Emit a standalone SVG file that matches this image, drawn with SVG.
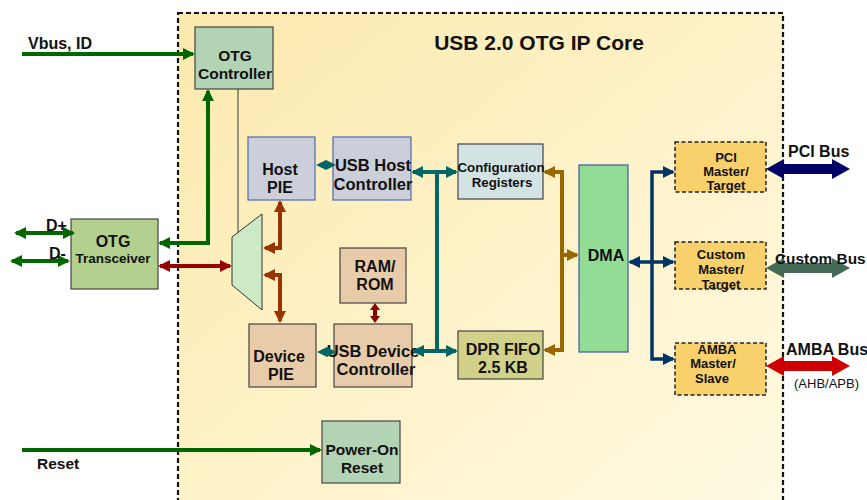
<svg xmlns="http://www.w3.org/2000/svg" width="867" height="500" viewBox="0 0 867 500">
<defs>
<linearGradient id="bg" x1="0" y1="0" x2="1" y2="1">
<stop offset="0" stop-color="#fce9ad"/>
<stop offset="1" stop-color="#fffae3"/>
</linearGradient>
<marker id="ag" viewBox="0 0 12 12" markerWidth="12" markerHeight="12" refX="10" refY="6" orient="auto-start-reverse" markerUnits="userSpaceOnUse"><path d="M0,0 L12,6 L0,12 z" fill="#006600"/></marker>
<marker id="ab" viewBox="0 0 12 12" markerWidth="12" markerHeight="12" refX="10" refY="6" orient="auto-start-reverse" markerUnits="userSpaceOnUse"><path d="M0,0 L12,6 L0,12 z" fill="#993300"/></marker>
<marker id="ar" viewBox="0 0 12 12" markerWidth="12" markerHeight="12" refX="10" refY="6" orient="auto-start-reverse" markerUnits="userSpaceOnUse"><path d="M0,0 L12,6 L0,12 z" fill="#990000"/></marker>
<marker id="at" viewBox="0 0 12 12" markerWidth="12" markerHeight="12" refX="10" refY="6" orient="auto-start-reverse" markerUnits="userSpaceOnUse"><path d="M0,0 L12,6 L0,12 z" fill="#006666"/></marker>
<marker id="ao" viewBox="0 0 12 12" markerWidth="12" markerHeight="12" refX="10" refY="6" orient="auto-start-reverse" markerUnits="userSpaceOnUse"><path d="M0,0 L12,6 L0,12 z" fill="#996600"/></marker>
<marker id="an" viewBox="0 0 12 12" markerWidth="12" markerHeight="12" refX="10" refY="6" orient="auto-start-reverse" markerUnits="userSpaceOnUse"><path d="M0,0 L12,6 L0,12 z" fill="#003366"/></marker>
</defs>
<style>
text{font-family:"Liberation Sans",Arial,sans-serif;font-weight:bold;fill:#111;}
.c{text-anchor:middle;}
.f16{font-size:16px;}
.f15{font-size:15.5px;}
.f13{font-size:13px;}
.box{stroke:#444;stroke-width:1.2;}
.blue{stroke:#4a6cb5;stroke-width:1.2;}
.dash{stroke:#222;stroke-width:1.5;stroke-dasharray:4,2.5;fill:#f8d06c;}
.g{stroke:#006600;stroke-width:4;fill:none;}
.br{stroke:#993300;stroke-width:4;fill:none;}
.rd{stroke:#990000;stroke-width:4;fill:none;}
.tl{stroke:#006666;stroke-width:4;fill:none;}
.or{stroke:#996600;stroke-width:4;fill:none;}
.nv{stroke:#003366;stroke-width:3.5;fill:none;}
</style>

<g id="core">
<rect x="178" y="13" width="605" height="500" fill="url(#bg)" stroke="#111" stroke-width="2.2" stroke-dasharray="5,3"/>
<text class="c" x="539" y="50" style="font-size:21px">USB 2.0 OTG IP Core</text>
</g>

<g id="otg-controller">
<rect class="box" x="195" y="27" width="78" height="62" fill="#b3d3b5"/>
<text class="c f15" x="235" y="61">OTG</text>
<text class="c f15" x="235" y="79">Controller</text>
</g>

<g id="otg-transceiver">
<rect class="box" x="71" y="219" width="87" height="70" fill="#b3d08e"/>
<text class="c f16" x="113" y="247">OTG</text>
<text class="c" x="113" y="263" style="font-size:13.5px">Transceiver</text>
</g>

<g id="mux">
<polygon points="232,237 262,214 262,310 232,285" fill="#cdeac6" stroke="#333" stroke-width="1"/>
</g>

<g id="host-pie">
<rect class="blue" x="248" y="137" width="67" height="63" fill="#cccfd9"/>
<text class="c f16" x="280" y="175">Host</text>
<text class="c f16" x="280" y="193">PIE</text>
</g>

<g id="usb-host-controller">
<rect class="blue" x="333" y="137" width="78" height="63" fill="#cccfd9"/>
<text class="c" x="373" y="171" style="font-size:16.5px">USB Host</text>
<text class="c" x="373" y="190" style="font-size:16.5px">Controller</text>
</g>

<g id="ram-rom">
<rect class="box" x="340" y="248" width="66" height="55" fill="#e8cba9"/>
<text class="c f16" x="375" y="272">RAM/</text>
<text class="c f16" x="375" y="290">ROM</text>
</g>

<g id="device-pie">
<rect class="box" x="249" y="324" width="67" height="63" fill="#e8cba9"/>
<text class="c f16" x="279" y="362">Device</text>
<text class="c f16" x="281" y="380">PIE</text>
</g>

<g id="usb-device-controller">
<rect class="box" x="334" y="324" width="78" height="63" fill="#e8cba9"/>
<text class="c" x="373" y="357" style="font-size:16.5px">USB Device</text>
<text class="c" x="376" y="375" style="font-size:16.5px">Controller</text>
</g>

<g id="config-registers">
<rect class="box" x="458" y="144" width="85" height="55" fill="#d3e3e3"/>
<text class="c" x="501" y="172" style="font-size:13.3px">Configuration</text>
<text class="c" x="502" y="187" style="font-size:13.3px">Registers</text>
</g>

<g id="dpr-fifo">
<rect class="box" x="458" y="331" width="85" height="48" fill="#d2d18a"/>
<text class="c f16" x="503" y="355">DPR FIFO</text>
<text class="c f16" x="503" y="373">2.5 KB</text>
</g>

<g id="dma">
<rect x="579" y="165" width="49" height="187" fill="#93dc96" stroke="#3b5ca0" stroke-width="1.2"/>
<text class="c f16" x="606" y="261">DMA</text>
</g>

<g id="pci-master">
<rect class="dash" x="675" y="142" width="91" height="50"/>
<text class="c f13" x="726" y="162">PCI</text>
<text class="c f13" x="726" y="176">Master/</text>
<text class="c f13" x="726" y="190">Target</text>
</g>

<g id="custom-master">
<rect class="dash" x="675" y="242" width="91" height="47"/>
<text class="c f13" x="721" y="259">Custom</text>
<text class="c f13" x="721" y="274">Master/</text>
<text class="c f13" x="721" y="289">Target</text>
</g>

<g id="amba-master">
<rect class="dash" x="675" y="343" width="91" height="52"/>
<text class="c f13" x="717" y="354">AMBA</text>
<text class="c f13" x="713" y="368">Master/</text>
<text class="c f13" x="712" y="383">Slave</text>
</g>

<g id="power-on-reset">
<rect class="box" x="322" y="421" width="78" height="62" fill="#b3d3b5"/>
<text class="c f15" x="362" y="455">Power-On</text>
<text class="c f15" x="362" y="473">Reset</text>
</g>

<g id="connectors">
<path class="g" d="M22,54 H193" marker-end="url(#ag)"/>
<path class="g" d="M208,91 V243 H160" marker-start="url(#ag)" marker-end="url(#ag)"/>
<path class="g" d="M16,233 H73" marker-start="url(#ag)" marker-end="url(#ag)"/>
<path class="g" d="M12,261 H68" marker-start="url(#ag)" marker-end="url(#ag)"/>
<path class="g" d="M22,450 H320" marker-end="url(#ag)"/>
<path d="M238,89 V233" stroke="#555" stroke-width="1.2" fill="none"/>
<path class="rd" d="M160,266 H230" marker-start="url(#ar)" marker-end="url(#ar)"/>
<path class="br" d="M280,202 V248 H265" marker-start="url(#ab)" marker-end="url(#ab)"/>
<path class="br" d="M265,275 H280 V321" marker-start="url(#ab)" marker-end="url(#ab)"/>
<path d="M375,309 V317" stroke="#880000" stroke-width="4" fill="none"/>
<path d="M370,310 L375,303 L380,310 z M370,316 L375,323 L380,316 z" fill="#880000"/>
<polygon points="316,165 326,160 336,165 326,170" fill="#006666"/>
<polygon points="317,352 327,347 336,352 327,357" fill="#006666"/>
<path class="tl" d="M413,172 H456" marker-start="url(#at)" marker-end="url(#at)"/>
<path class="tl" d="M414,351 H456" marker-start="url(#at)" marker-end="url(#at)"/>
<path class="tl" d="M437,172 V351"/>
<path class="or" d="M545,172 H562 V350 H545" marker-start="url(#ao)" marker-end="url(#ao)"/>
<path class="or" d="M562,255 H577" marker-end="url(#ao)"/>
<path class="nv" d="M652,262 H630" marker-end="url(#an)"/>
<path class="nv" d="M673,172 H652 V359 H673" marker-start="url(#an)" marker-end="url(#an)"/>
<path class="nv" d="M652,262 H673" marker-end="url(#an)"/>
<polygon points="766,169 784,159 784,164 832,164 832,159 850,169 832,179 832,174 784,174 784,179" fill="#000066"/>
<polygon points="766,268 784,258 784,263 832,263 832,258 850,268 832,278 832,273 784,273 784,278" fill="#446a55"/>
<polygon points="766,366 784,356 784,361 832,361 832,356 850,366 832,376 832,371 784,371 784,376" fill="#cc0000"/>
</g>

<g id="labels">
<text class="f16" x="28" y="49">Vbus, ID</text>
<text class="f16" x="46" y="231">D+</text>
<text class="f16" x="49" y="259">D-</text>
<text class="f15" x="37" y="469">Reset</text>
<text class="f16" x="788" y="157">PCI Bus</text>
<text x="775" y="264" style="font-size:15.4px">Custom Bus</text>
<text class="f16" x="786" y="355">AMBA Bus</text>
<text x="794" y="388" style="font-size:13px;font-weight:normal">(AHB/APB)</text>
</g>
</svg>
